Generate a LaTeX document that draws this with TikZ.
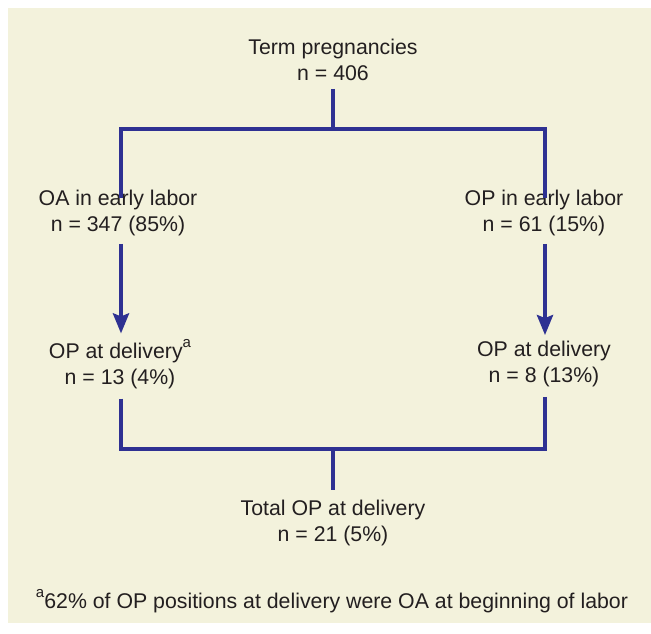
\documentclass[tikz,border=0pt]{standalone}
\usepackage{fontspec}
\setmainfont{Liberation Sans}
\usetikzlibrary{arrows.meta}
\definecolor{bgc}{HTML}{F3F2DC}
\definecolor{linec}{HTML}{2E3192}
\definecolor{txtc}{HTML}{231F20}
\newcommand{\supa}{\raisebox{0.5em}{\fontsize{15}{15}\selectfont a}}
\begin{document}
\begin{tikzpicture}[x=1pt,y=-1pt,
  lbl/.style={align=center,text=txtc,font=\fontsize{21.3}{26}\selectfont,inner sep=0pt,outer sep=0pt},
  conn/.style={draw=linec,line width=4pt},
  arr/.style={conn,-{Stealth[length=20pt,width=16pt,inset=3pt]}}]
\useasboundingbox (0,0) rectangle (651,633);
\fill[bgc] (8,8) rectangle (651,623);
% nodes
\node[lbl] (top) at (333,60) {Term pregnancies\\n = 406};
\node[lbl] (oa) at (118,213) {OA in early labor\\n = 347 (85\%)};
\node[lbl] (ope) at (544,213) {OP in early labor\\n = 61 (15\%)};
\node[lbl] (opl) at (120,364) {OP at delivery\supa\\n = 13 (4\%)};
\node[lbl] (opr) at (544,364) {OP at delivery\\n = 8 (13\%)};
\node[lbl] (tot) at (333,523) {Total OP at delivery\\n = 21 (5\%)};
\node[lbl] (fn) at (332,601) {\supa 62\% of OP positions at delivery were OA at beginning of labor};
% junction coordinates
\coordinate (jt) at (333,129);
\coordinate (jtl) at (121,129);
\coordinate (jtr) at (545,129);
\coordinate (jb) at (333,449);
\coordinate (jbl) at (121,449);
\coordinate (jbr) at (545,449);
% connectors
\draw[conn] (top.south -| jt) ++(0,8) -- (jt);
\draw[conn,line cap=rect] (jtl) -- (jtr);
\draw[conn] (jtl) -- ([yshift=-8pt]oa.north -| jtl);
\draw[conn] (jtr) -- ([yshift=-8pt]ope.north -| jtr);
\draw[arr] ([yshift=-8pt]oa.south -| jtl) -- ([yshift=6pt]opl.north -| jtl);
\draw[arr] ([yshift=-8pt]ope.south -| jtr) -- ([yshift=6pt]opr.north -| jtr);
\draw[conn] ([yshift=-10pt]opl.south -| jbl) -- (jbl);
\draw[conn] ([yshift=-10pt]opr.south -| jbr) -- (jbr);
\draw[conn,line cap=rect] (jbl) -- (jbr);
\draw[conn] (jb) -- ([yshift=10pt]tot.north -| jb);
\end{tikzpicture}
\end{document}
